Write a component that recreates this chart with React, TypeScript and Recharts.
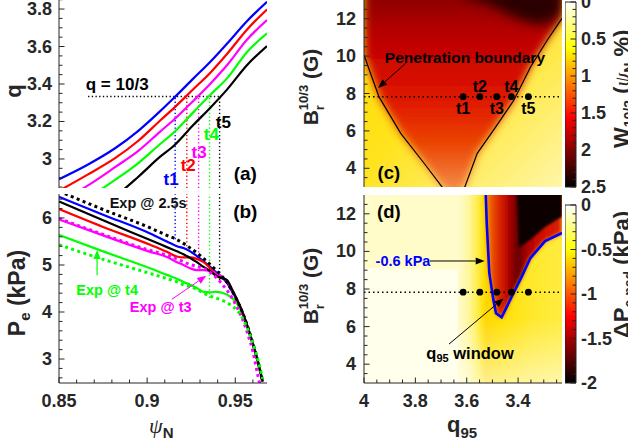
import React from "react";
import {
  ComposedChart,
  Line,
  Area,
  Scatter,
  XAxis,
  YAxis,
  ReferenceLine,
  ReferenceDot,
  ReferenceArea,
} from "recharts";

const INK = "#262626";
const FONT = '"Liberation Sans", Arial, Helvetica, sans-serif';

// t1..t5, shared by all four panels
const T_NAMES = ["t1", "t2", "t3", "t4", "t5"];
const T_COLORS = ["#0000ff", "#ff0000", "#ff00ff", "#00ff00", "#000000"];
const T_PSI = [0.9159, 0.9225, 0.9292, 0.9354, 0.9411]; // where q = 10/3
const T_Q95 = [3.614, 3.549, 3.483, 3.426, 3.36];
const BR_T = 7.83;
const Q_RES = 10 / 3;

// (a) q profiles
const PSI_A = [0.85, 0.866, 0.8818, 0.895, 0.9074, 0.915, 0.9263, 0.936, 0.9453, 0.9566, 0.968];
const Q_T1 = [2.892, 2.968, 3.057, 3.15, 3.255, 3.324, 3.43, 3.52, 3.615, 3.735, 3.839];
const Q_T2 = [2.83, 2.915, 3.004, 3.097, 3.205, 3.27, 3.373, 3.462, 3.56, 3.69, 3.798];
const Q_T3 = [2.77, 2.856, 2.956, 3.043, 3.146, 3.208, 3.311, 3.403, 3.5, 3.636, 3.741];
const Q_T4 = [2.7, 2.79, 2.888, 2.978, 3.08, 3.14, 3.25, 3.344, 3.43, 3.57, 3.67];
const Q_T5 = [2.62, 2.71, 2.8, 2.905, 3.012, 3.069, 3.182, 3.275, 3.37, 3.5, 3.603];
const T_LABEL_A = [[0.9136, 2.888], [0.9233, 2.963], [0.9295, 3.037], [0.9364, 3.128], [0.9432, 3.192]];

// (b) electron pressure profiles
const PSI_B = [0.85, 0.875, 0.9017, 0.9112, 0.9169, 0.9206, 0.9244, 0.9282, 0.932, 0.9358, 0.9396, 0.9424, 0.9453, 0.948, 0.951, 0.954, 0.957, 0.96, 0.963, 0.9655];
const PE_T1 = [6.45, 6.07, 5.67, 5.5, 5.4, 5.36, 5.29, 5.19, 5.08, 4.96, 4.83, 4.74, 4.62, 4.45, 4.25, 4.0, 3.69, 3.33, 2.93, 2.52];
const PE_T2 = [6.19, 5.81, 5.43, 5.28, 5.18, 5.16, 5.16, 5.13, 5.06, 4.93, 4.79, 4.73, 4.67, 4.49, 4.26, 4.0, 3.68, 3.32, 2.92, 2.52];
const PE_T3 = [5.97, 5.63, 5.28, 5.17, 5.06, 5.0, 4.93, 4.89, 4.89, 4.87, 4.82, 4.75, 4.66, 4.49, 4.26, 4.0, 3.68, 3.32, 2.92, 2.52];
const PE_T4 = [5.64, 5.29, 4.93, 4.79, 4.71, 4.64, 4.58, 4.51, 4.43, 4.42, 4.43, 4.41, 4.37, 4.3, 4.18, 3.98, 3.68, 3.32, 2.92, 2.52];
const PE_T5 = [6.35, 5.95, 5.53, 5.38, 5.29, 5.23, 5.15, 5.06, 4.96, 4.87, 4.76, 4.72, 4.68, 4.49, 4.26, 4.0, 3.68, 3.32, 2.92, 2.52];
const PE_EXP_25 = [6.57, 6.18, 5.79, 5.63, 5.54, 5.46, 5.36, 5.26, 5.14, 5.01, 4.87, 4.76, 4.63, 4.46, 4.25, 4.0, 3.69, 3.33, 2.93, 2.52];
const PE_EXP_T3 = [5.99, 5.65, 5.31, 5.21, 5.13, 5.07, 5.01, 4.97, 4.93, 4.84, 4.72, 4.6, 4.46, 4.31, 4.1, 3.86, 3.54, 3.16, 2.62, 2.25];
const PE_EXP_T4 = [5.43, 5.12, 4.82, 4.71, 4.64, 4.58, 4.54, 4.48, 4.4, 4.34, 4.29, 4.25, 4.2, 4.13, 4.04, 3.88, 3.64, 3.33, 2.96, 2.58];
const T_PE_LOW = [5.55, 5.4, 4.87, 4.3, 4.68];

// (c) island width map: penetration boundary and dark corner
const PEN_Q = [4.0, 3.942, 3.857, 3.766, 3.697, 3.652, 3.607, 3.559, 3.487, 3.416, 3.351, 3.286, 3.229];
const PEN_BR = [10.06, 7.83, 5.87, 4.27, 3.02, 2.3, 3.02, 4.8, 6.22, 7.65, 9.43, 10.86, 12.02];
const DARK_Q = [3.62, 3.5, 3.4, 3.33, 3.28, 3.229];
const DARK_BR = [13.3, 12.7, 12.0, 11.7, 11.8, 12.4];

// (d) pedestal pressure drop map: -0.6 kPa contour, black region, tinted corner
const CONT_Q = [3.527, 3.522, 3.512, 3.496, 3.486, 3.464, 3.425, 3.386, 3.353, 3.295, 3.229];
const CONT_BR = [13.5, 11.49, 8.84, 7.41, 6.71, 6.49, 7.59, 8.65, 9.63, 10.55, 10.98];
const BLACK_Q = [3.405, 3.397, 3.35, 3.295, 3.229];
const BLACK_BR = [13.5, 10.2, 10.65, 11.3, 11.85];
const TINT_Q = [4.0, 3.625];
const TINT_BR = [9.12, 9.02];
const FILL_TOP = 13.6;

// axes
const PSI_DOMAIN = [0.85, 0.968];
const Q_DOMAIN = [2.845, 3.859];
const PE_DOMAIN = [2.49, 6.51];
const Q95_DOMAIN = [3.229, 4];
const BR_DOMAIN = [3, 13];
const W_DOMAIN = [0, 2.5];
const DP_DOMAIN = [-2, 0];

const steps = (a: number, b: number, s: number) => {
  const out: number[] = [];
  for (let i = 0; a + i * s <= b + 1e-9; i++) out.push(+(a + i * s).toFixed(4));
  return out;
};
const PSI_MAJOR = [0.85, 0.9, 0.95];
const PSI_MINOR = steps(0.85, 0.96, 0.01);
const Q_MAJOR = [3, 3.2, 3.4, 3.6, 3.8];
const Q_MINOR = steps(2.85, 3.85, 0.05);
const PE_MAJOR = [3, 4, 5, 6];
const PE_MINOR = steps(2.6, 6.4, 0.2);
const Q95_MAJOR = [3.4, 3.6, 3.8, 4];
const Q95_MINOR = steps(3.25, 4, 0.05);
const BR_MAJOR = [4, 6, 8, 10, 12];
const BR_MINOR = steps(3.5, 12.5, 0.5);
const W_MAJOR = [0, 0.5, 1, 1.5, 2, 2.5];
const W_MINOR = steps(0, 2.5, 0.1);
const DP_MAJOR = [-2, -1.5, -1, -0.5, 0];
const DP_MINOR = steps(-2, 0, 0.1);

const line = (xs: number[], ys: number[], xk: string) => xs.map((x, i) => ({ [xk]: x, v: ys[i] }));
const band = (xs: number[], lows: number[]) => xs.map((q, i) => ({ q, v: [lows[i], FILL_TOP] }));
const fmtNum = (v: number) => (Math.abs(v) < 1e-9 ? "0" : String(v));

function makeTick(side: string, majors: number[], gap: number, labels: boolean) {
  return function Tick(props: any) {
    const { x, y, payload } = props;
    const v = Number(payload.value);
    const major = majors.some((m) => Math.abs(m - v) < 1e-6);
    const len = major ? 5.5 : 3.5;
    const txt = { fill: INK, fontSize: 18, fontWeight: 700, fontFamily: FONT, stroke: "none" };
    const show = labels && major;
    if (side === "left") {
      const ax = x + gap;
      return (
        <g>
          <line x1={ax} y1={y} x2={ax + len} y2={y} stroke={INK} />
          {show && <text {...txt} x={x} y={y} textAnchor="end" dominantBaseline="central">{fmtNum(v)}</text>}
        </g>
      );
    }
    if (side === "right") {
      const ax = x - gap;
      return (
        <g>
          <line x1={ax} y1={y} x2={ax - len} y2={y} stroke={INK} />
          {show && <text {...txt} x={x} y={y} textAnchor="start" dominantBaseline="central">{fmtNum(v)}</text>}
        </g>
      );
    }
    if (side === "bottom") {
      const ay = y - gap;
      return (
        <g>
          <line x1={x} y1={ay} x2={x} y2={ay - len} stroke={INK} />
          {show && <text {...txt} x={x} y={y} textAnchor="middle">{fmtNum(v)}</text>}
        </g>
      );
    }
    const ay = y + gap;
    return <line x1={x} y1={ay} x2={x} y2={ay + len} stroke={INK} />;
  };
}

const note = (content: any, color: string, size: number) => (p: any) => (
  <text x={p.cx} y={p.cy} fill={color} fontSize={size} fontWeight={700} fontFamily={FONT}
    textAnchor="middle" dominantBaseline="central">{content}</text>
);

const arrow = (color: string, w = 1) => (p: any) => {
  const { x1, y1, x2, y2 } = p;
  const a = Math.atan2(y2 - y1, x2 - x1);
  const L = 9, H = 3.6;
  const bx = x2 - L * Math.cos(a), by = y2 - L * Math.sin(a);
  const pts = `${x2},${y2} ${bx + H * Math.sin(a)},${by - H * Math.cos(a)} ${bx - H * Math.sin(a)},${by + H * Math.cos(a)}`;
  return (
    <g>
      <line x1={x1} y1={y1} x2={bx} y2={by} stroke={color} strokeWidth={w} />
      <polygon points={pts} fill={color} />
    </g>
  );
};

const dotShape = (p: any) => <circle cx={p.cx} cy={p.cy} r={3.4} fill="#000" />;

const flat = { dot: false, activeDot: false, isAnimationActive: false, legendType: "none" as const };

function BoxAxes({ xDomain, xTicks, xMajor, yDomain, yTicks, yMajor, xLabels, yGap, xReversed = false, xHeight = 0, yWidth = 59 }: any) {
  return [
    <XAxis key="xb" dataKey={xDomain === Q95_DOMAIN ? "q" : "psi"} type="number" domain={xDomain} reversed={xReversed}
      allowDataOverflow height={xHeight} ticks={xTicks} interval={0} tickSize={0} tickMargin={xLabels ? 24 : 0}
      tickLine={false} axisLine={{ stroke: INK }} tick={makeTick("bottom", xMajor, xLabels ? 24 : 0, xLabels)} />,
    <XAxis key="xt" xAxisId="top" orientation="top" type="number" domain={xDomain} reversed={xReversed}
      allowDataOverflow height={0} ticks={xTicks} interval={0} tickSize={0} tickMargin={0}
      tickLine={false} axisLine={{ stroke: INK }} tick={makeTick("top", xMajor, 0, false)} />,
    <YAxis key="yl" type="number" domain={yDomain} allowDataOverflow width={yWidth} ticks={yTicks} interval={0}
      tickSize={0} tickMargin={yGap} tickLine={false} axisLine={{ stroke: INK }} tick={makeTick("left", yMajor, yGap, true)} />,
    <YAxis key="yr" yAxisId="right" orientation="right" type="number" domain={yDomain} allowDataOverflow width={0}
      ticks={yTicks} interval={0} tickSize={0} tickMargin={0} tickLine={false} axisLine={{ stroke: INK }}
      tick={makeTick("right", yMajor, 0, false)} />,
  ];
}

function PanelA() {
  const series = [Q_T1, Q_T2, Q_T3, Q_T4, Q_T5];
  return (
    <div style={{ position: "absolute", left: 0, top: -2 }}>
      <ComposedChart width={275} height={190} margin={{ top: 0, right: 8, bottom: 0, left: 0 }}>
        {T_PSI.map((t, i) => (
          <ReferenceLine key={"tv" + i} segment={[{ x: t, y: Q_DOMAIN[0] }, { x: t, y: Q_RES }]} stroke={T_COLORS[i]}
            strokeDasharray="1.3 2.4" strokeWidth={1.4} ifOverflow="hidden" />
        ))}
        <ReferenceLine segment={[{ x: 0.8665, y: Q_RES }, { x: T_PSI[4], y: Q_RES }]} stroke="#000"
          strokeDasharray="1.3 2.4" strokeWidth={1.4} />
        {series.map((s, i) => (
          <Line key={i} data={line(PSI_A, s, "psi")} dataKey="v" type="monotone" stroke={T_COLORS[i]} strokeWidth={2.2} {...flat} />
        ))}
        {T_LABEL_A.map(([x, y], i) => (
          <ReferenceDot key={"tl" + i} x={x} y={y} r={0} shape={note(T_NAMES[i], T_COLORS[i], 17)} />
        ))}
        <ReferenceDot x={0.883} y={3.395} r={0} shape={note("q = 10/3", "#000", 17)} />
        <ReferenceDot x={0.9557} y={2.925} r={0} shape={note("(a)", "#000", 19)} />
        {BoxAxes({ xDomain: PSI_DOMAIN, xTicks: PSI_MINOR, xMajor: PSI_MAJOR, yDomain: Q_DOMAIN, yTicks: Q_MINOR, yMajor: Q_MAJOR, xLabels: false, yGap: 7 })}
      </ComposedChart>
    </div>
  );
}

function PanelB() {
  const solids = [PE_T1, PE_T2, PE_T3, PE_T4, PE_T5];
  const exps = [
    { d: PE_EXP_25, c: "#000000" },
    { d: PE_EXP_T3, c: "#ff00ff" },
    { d: PE_EXP_T4, c: "#00ff00" },
  ];
  return (
    <div style={{ position: "absolute", left: 0, top: 194 }}>
      <ComposedChart width={275} height={229} margin={{ top: 0, right: 8, bottom: 0, left: 0 }}>
        {T_PSI.map((t, i) => (
          <ReferenceLine key={"tv" + i} segment={[{ x: t, y: T_PE_LOW[i] }, { x: t, y: PE_DOMAIN[1] }]} stroke={T_COLORS[i]}
            strokeDasharray="1.3 2.4" strokeWidth={1.4} ifOverflow="hidden" />
        ))}
        {solids.map((s, i) => (
          <Line key={i} data={line(PSI_B, s, "psi")} dataKey="v" type="monotone" stroke={T_COLORS[i]} strokeWidth={2.2} {...flat} />
        ))}
        {exps.map((e, i) => (
          <Line key={"e" + i} data={line(PSI_B, e.d, "psi")} dataKey="v" type="monotone" stroke={e.c} strokeWidth={3}
            strokeDasharray="3 3.4" {...flat} />
        ))}
        <ReferenceLine segment={[{ x: 0.8716, y: 4.78 }, { x: 0.8716, y: 5.32 }]} shape={arrow("#00ff00", 1.2)} />
        <ReferenceLine segment={[{ x: 0.914, y: 4.27 }, { x: 0.9335, y: 4.77 }]} shape={arrow("#ff00ff", 1)} />
        <ReferenceDot x={0.9006} y={6.32} r={0} shape={note("Exp @ 2.5s", "#111", 14.5)} />
        <ReferenceDot x={0.8773} y={4.47} r={0} shape={note("Exp @ t4", "#00ff00", 14.5)} />
        <ReferenceDot x={0.9077} y={4.1} r={0} shape={note("Exp @ t3", "#ff00ff", 14.5)} />
        <ReferenceDot x={0.9557} y={6.13} r={0} shape={note("(b)", "#000", 19)} />
        {BoxAxes({ xDomain: PSI_DOMAIN, xTicks: PSI_MINOR, xMajor: PSI_MAJOR, yDomain: PE_DOMAIN, yTicks: PE_MINOR, yMajor: PE_MAJOR, xLabels: true, xHeight: 40, yGap: 7 })}
      </ComposedChart>
    </div>
  );
}

function PanelC() {
  return (
    <div style={{ position: "absolute", left: 304, top: 0 }}>
      <ComposedChart width={258} height={187} margin={{ top: 0, right: 0, bottom: 0, left: 0 }}>
        <defs>
          <linearGradient id="bgC" x1="0" y1="0" x2="1" y2="1">
            <stop offset="0" stopColor="#ffd800" />
            <stop offset="0.45" stopColor="#ffe31c" />
            <stop offset="1" stopColor="#fff6a8" />
          </linearGradient>
          <linearGradient id="vC" x1="0" y1="0" x2="0" y2="1">
            <stop offset="0.05" stopColor="#8e0000" />
            <stop offset="0.19" stopColor="#b40000" />
            <stop offset="0.36" stopColor="#d00800" />
            <stop offset="0.54" stopColor="#e01a00" />
            <stop offset="0.72" stopColor="#ea4200" />
            <stop offset="0.85" stopColor="#f06a28" />
            <stop offset="0.94" stopColor="#f48a48" />
            <stop offset="1" stopColor="#f69858" />
          </linearGradient>
          <filter id="blurC4" x="-20%" y="-20%" width="140%" height="140%"><feGaussianBlur stdDeviation="4" /></filter>
          <filter id="blurC7" x="-30%" y="-30%" width="160%" height="160%"><feGaussianBlur stdDeviation="6" /></filter>
        </defs>
        <ReferenceArea x1={Q95_DOMAIN[0]} x2={Q95_DOMAIN[1]} y1={BR_DOMAIN[0]} y2={BR_DOMAIN[1]} fill="url(#bgC)" fillOpacity={1} stroke="none" />
        <Area data={band(PEN_Q, PEN_BR)} dataKey="v" type="linear" fill="url(#vC)" fillOpacity={1} stroke="none" filter="url(#blurC4)" {...flat} />
        <Area data={band(DARK_Q, DARK_BR)} dataKey="v" type="linear" fill="#2a0000" fillOpacity={1} stroke="none" filter="url(#blurC7)" {...flat} />
        <Line data={line(PEN_Q, PEN_BR, "q")} dataKey="v" type="linear" stroke="#000" strokeWidth={1.2} {...flat} />
        <ReferenceLine y={BR_T} stroke="#000" strokeDasharray="1.5 3" strokeWidth={1.6} />
        <Scatter data={T_Q95.map((q) => ({ q, br: BR_T }))} dataKey="br" shape={dotShape} isAnimationActive={false} legendType="none" />
        {T_Q95.map((q, i) => (
          <ReferenceDot key={"tl" + i} x={q} y={i % 2 === 0 ? 7.2 : 8.35} r={0} shape={note(T_NAMES[i], "#000", 16)} />
        ))}
        <ReferenceLine segment={[{ x: 3.838, y: 9.61 }, { x: 3.945, y: 8.3 }]} shape={arrow("#000", 1)} />
        <ReferenceDot x={3.607} y={9.95} r={0} shape={note("Penetration boundary", "#000", 15.5)} />
        <ReferenceDot x={3.903} y={3.75} r={0} shape={note("(c)", "#000", 18.5)} />
        {BoxAxes({ xDomain: Q95_DOMAIN, xReversed: true, xTicks: Q95_MINOR, xMajor: Q95_MAJOR, yDomain: BR_DOMAIN, yTicks: BR_MINOR, yMajor: BR_MAJOR, xLabels: false, yGap: 8, yWidth: 60 })}
      </ComposedChart>
    </div>
  );
}

function PanelD() {
  return (
    <div style={{ position: "absolute", left: 304, top: 195 }}>
      <ComposedChart width={258} height={228} margin={{ top: 0, right: 0, bottom: 0, left: 0 }}>
        <defs>
          <linearGradient id="stripD" x1="0" y1="0" x2="1" y2="0">
            <stop offset="0" stopColor="#fffbd0" />
            <stop offset="0.1" stopColor="#fff7a0" />
            <stop offset="0.17" stopColor="#fff060" />
            <stop offset="0.23" stopColor="#ffe41a" />
            <stop offset="0.27" stopColor="#ffd600" />
            <stop offset="0.41" stopColor="#ffe000" />
            <stop offset="0.7" stopColor="#ffe82a" />
            <stop offset="1" stopColor="#ffec40" />
          </linearGradient>
          <linearGradient id="fadeD" x1="0" y1="0" x2="0" y2="1">
            <stop offset="0" stopColor="#fffff0" stopOpacity={0} />
            <stop offset="1" stopColor="#fffff0" stopOpacity={0.6} />
          </linearGradient>
          <linearGradient id="innerD" x1="0" y1="0" x2="1" y2="0">
            <stop offset="0" stopColor="#f59000" />
            <stop offset="0.06" stopColor="#ee6000" />
            <stop offset="0.15" stopColor="#e03000" />
            <stop offset="0.25" stopColor="#c81000" />
            <stop offset="0.33" stopColor="#a00000" />
            <stop offset="0.42" stopColor="#600000" />
            <stop offset="0.55" stopColor="#b00000" />
            <stop offset="0.75" stopColor="#d01000" />
            <stop offset="1" stopColor="#dc2000" />
          </linearGradient>
          <filter id="blurD2" x="-20%" y="-20%" width="140%" height="140%"><feGaussianBlur stdDeviation="2" /></filter>
          <filter id="blurD1" x="-20%" y="-20%" width="140%" height="140%"><feGaussianBlur stdDeviation="1.3" /></filter>
        </defs>
        <ReferenceArea x1={Q95_DOMAIN[0]} x2={Q95_DOMAIN[1]} y1={BR_DOMAIN[0]} y2={BR_DOMAIN[1]} fill="#ffffec" fillOpacity={1} stroke="none" />
        <Area data={band(TINT_Q, TINT_BR)} dataKey="v" type="linear" fill="#fffcca" fillOpacity={1} stroke="none" {...flat} />
        <ReferenceArea x1={3.635} x2={Q95_DOMAIN[0]} y1={BR_DOMAIN[0]} y2={BR_DOMAIN[1]} fill="url(#stripD)" fillOpacity={1} stroke="none" />
        <ReferenceArea x1={3.635} x2={Q95_DOMAIN[0]} y1={BR_DOMAIN[0]} y2={6.5} fill="url(#fadeD)" fillOpacity={1} stroke="none" />
        <Area data={band(CONT_Q, CONT_BR)} dataKey="v" type="linear" fill="url(#innerD)" fillOpacity={1} stroke="none" filter="url(#blurD2)" {...flat} />
        <Area data={band(BLACK_Q, BLACK_BR)} dataKey="v" type="linear" fill="#080000" fillOpacity={1} stroke="none" filter="url(#blurD1)" {...flat} />
        <Line data={line(CONT_Q, CONT_BR, "q")} dataKey="v" type="linear" stroke="#0000ff" strokeWidth={2.6} {...flat} />
        <ReferenceLine y={BR_T} stroke="#000" strokeDasharray="1.5 3" strokeWidth={1.6} />
        <Scatter data={T_Q95.map((q) => ({ q, br: BR_T }))} dataKey="br" shape={dotShape} isAnimationActive={false} legendType="none" />
        <ReferenceLine segment={[{ x: 3.743, y: 9.49 }, { x: 3.53, y: 9.49 }]} shape={arrow("#000", 1)} />
        <ReferenceLine segment={[{ x: 3.669, y: 5.07 }, { x: 3.457, y: 7.5 }]} shape={arrow("#000", 1)} />
        <ReferenceDot x={3.848} y={9.5} r={0} shape={note("-0.6 kPa", "#0000ff", 14.5)} />
        <ReferenceDot x={3.587} y={4.62} r={0}
          shape={note(<>q<tspan fontSize={11} dy={5}>95</tspan><tspan dy={-5}> window</tspan></>, "#000", 16.5)} />
        <ReferenceDot x={3.903} y={12.1} r={0} shape={note("(d)", "#000", 18.5)} />
        {BoxAxes({ xDomain: Q95_DOMAIN, xReversed: true, xTicks: Q95_MINOR, xMajor: Q95_MAJOR, yDomain: BR_DOMAIN, yTicks: BR_MINOR, yMajor: BR_MAJOR, xLabels: true, xHeight: 40, yGap: 8, yWidth: 60 })}
      </ComposedChart>
    </div>
  );
}

function ColorBar({ top, height, domain, reversed, ticks, majors, id }: any) {
  const bar = [0, 1].map((x) => ({ x, v: [domain[0], domain[1]] }));
  const pad = 12;
  return (
    <div style={{ position: "absolute", left: 565, top: top - pad }}>
      <ComposedChart width={61} height={height + 2 * pad} margin={{ top: pad, right: 0, bottom: pad, left: 0 }}>
        <defs>
          <linearGradient id={id} x1="0" y1="0" x2="0" y2="1">
            <stop offset="0" stopColor="#ffffff" />
            <stop offset="0.25" stopColor="#ffff00" />
            <stop offset="0.625" stopColor="#ff0000" />
            <stop offset="1" stopColor="#000000" />
          </linearGradient>
        </defs>
        <Area data={bar} dataKey="v" type="linear" fill={`url(#${id})`} fillOpacity={1} stroke="none" {...flat} />
        <ReferenceArea x1={0} x2={1} y1={domain[0]} y2={domain[1]} fill="none" stroke={INK} strokeWidth={1} />
        <XAxis type="number" dataKey="x" domain={[0, 1]} hide />
        <YAxis yAxisId="l" type="number" domain={domain} reversed={reversed} width={0} ticks={ticks} interval={0}
          tickSize={0} tickMargin={0} tickLine={false} axisLine={false} tick={makeTick("left", majors, 0, false)} />
        <YAxis orientation="right" type="number" domain={domain} reversed={reversed} width={50} ticks={ticks} interval={0}
          tickSize={0} tickMargin={5} tickLine={false} axisLine={false} tick={makeTick("right", majors, 5, true)} />
      </ComposedChart>
    </div>
  );
}

function Titles() {
  const t = { fontFamily: FONT, fontWeight: 700, fill: INK };
  return (
    <svg width={628} height={446} style={{ position: "absolute", left: 0, top: 0, pointerEvents: "none" }}>
      <text {...t} fontSize={22} x={21} y={91} textAnchor="middle" transform="rotate(-90 21 91)">q</text>
      <text {...t} fontSize={23} x={25} y={293} textAnchor="middle" transform="rotate(-90 25 293)">
        P<tspan fontSize={15} dy={5}>e</tspan><tspan dy={-5}> (kPa)</tspan>
      </text>
      {[87, 286].map((cy) => (
        <text key={cy} {...t} fontSize={21} x={318} y={cy} textAnchor="middle" transform={`rotate(-90 318 ${cy})`}>
          B<tspan fontSize={13} dy={6}>r</tspan>
          <tspan fontSize={13} dx={-5} dy={-16}>10/3</tspan>
          <tspan dy={10}> (G)</tspan>
        </text>
      ))}
      <text {...t} x={149} y={433}>
        <tspan fontFamily='"Liberation Serif", "DejaVu Serif", serif' fontStyle="italic" fontWeight={400} fontSize={22}>ψ</tspan>
        <tspan fontSize={15} dy={5}>N</tspan>
      </text>
      <text {...t} fontSize={22} x={447} y={432}>
        q<tspan fontSize={15} dy={6}>95</tspan>
      </text>
      <text {...t} fontSize={22} x={629} y={148} textAnchor="start" transform="rotate(-90 629 148)">
        W<tspan fontSize={14} dy={5}>10/3</tspan>
        <tspan dy={-5}> (</tspan>
        <tspan fontFamily='"Liberation Serif", "DejaVu Serif", serif' fontStyle="italic" fontWeight={400}>ψ</tspan>
        <tspan fontSize={14} dy={5}>N</tspan>
        <tspan dy={-5}> %)</tspan>
      </text>
      <text {...t} fontSize={22} x={629} y={338} textAnchor="start" transform="rotate(-90 629 338)">
        ΔP<tspan fontSize={14} dy={5}>e,ped</tspan>
        <tspan dy={-5}> (kPa)</tspan>
      </text>
    </svg>
  );
}

export default function App() {
  return (
    <div style={{ position: "absolute", left: 0, top: 0, width: 628, height: 446, overflow: "hidden", background: "#fff", fontFamily: FONT }}>
      <PanelA />
      <PanelB />
      <PanelC />
      <PanelD />
      <ColorBar top={2} height={185} domain={W_DOMAIN} reversed ticks={W_MINOR} majors={W_MAJOR} id="hotC" />
      <ColorBar top={205} height={178} domain={DP_DOMAIN} reversed={false} ticks={DP_MINOR} majors={DP_MAJOR} id="hotD" />
      <Titles />
    </div>
  );
}
